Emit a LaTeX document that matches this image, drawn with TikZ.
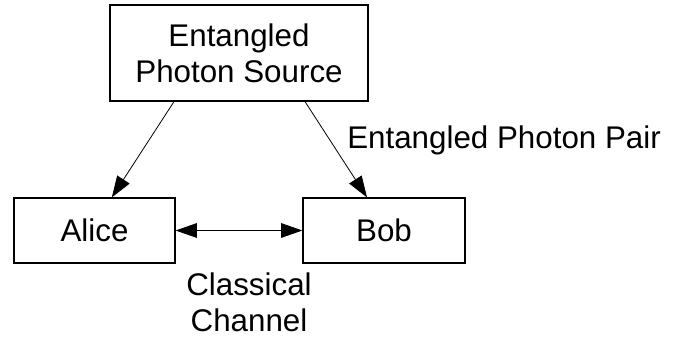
\documentclass[tikz,border=0pt]{standalone}
\usepackage{fontspec}
\setmainfont{Liberation Sans}
\usetikzlibrary{arrows.meta}

\tikzset{
	box/.style = {draw, line width=0.9pt, align=center, inner sep=0pt},
	tip/.style = {-{Triangle[length=16pt,width=11pt]}},
	link/.style = {line width=0.6pt, tip},
	lbl/.style = {align=center, inner sep=0pt}
}

\begin{document}
\begin{tikzpicture}[x=0.75pt, y=-0.75pt, font=\fontsize{23.5}{27}\selectfont]
					% frame of the picture
					\useasboundingbox (0,0) rectangle (673,338);
					
					% boxes
					\node[box, minimum width=193.5pt, minimum height=72pt] (src) at (239,53) {Entangled\\Photon Source};
					\node[box, minimum width=120.75pt, minimum height=48.75pt] (alice) at (94.5,230.5) {Alice};
					\node[box, minimum width=121.5pt, minimum height=48.75pt] (bob) at (384,230.5) {Bob};
					
					% arrows
					\draw[link] ([xshift=-48.75pt]src.south) -- ([xshift=13pt]alice.north);
					\draw[link] ([xshift=49.5pt]src.south) -- ([xshift=-12.75pt]bob.north);
					\draw[link, {Triangle[length=16pt,width=11pt]}-{Triangle[length=16pt,width=11pt]}] (alice.east) -- (bob.west);
					
					% labels
					\node[lbl, anchor=west] (pair) at (347,140) {Entangled Photon Pair};
					\node[lbl] (chan) at (249,302) {Classical\\Channel};
					
				\end{tikzpicture}
\end{document}
